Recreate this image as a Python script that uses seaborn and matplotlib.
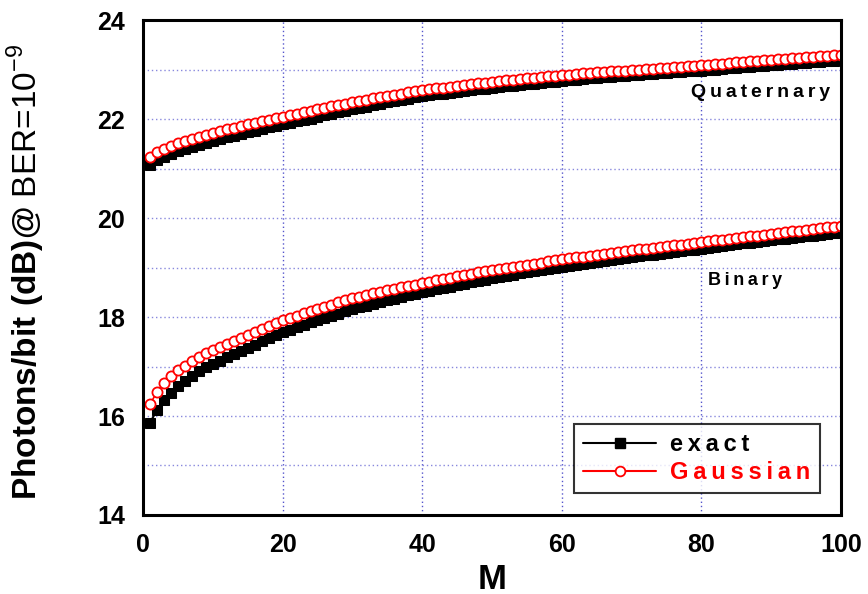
import matplotlib
matplotlib.use("Agg")
import matplotlib.pyplot as plt
import seaborn as sns
import pandas as pd
from matplotlib.ticker import MultipleLocator
from matplotlib.lines import Line2D

M = list(range(1, 101))

binary_exact = [
    15.86, 16.12, 16.32, 16.47, 16.60, 16.71, 16.81, 16.90, 16.98, 17.05,
    17.12, 17.19, 17.25, 17.32, 17.38, 17.44, 17.51, 17.57, 17.63, 17.69,
    17.74, 17.79, 17.84, 17.89, 17.94, 17.98, 18.03, 18.07, 18.12, 18.16,
    18.20, 18.23, 18.27, 18.30, 18.34, 18.37, 18.40, 18.44, 18.47, 18.50,
    18.53, 18.56, 18.58, 18.61, 18.64, 18.67, 18.70, 18.72, 18.75, 18.78,
    18.80, 18.83, 18.85, 18.88, 18.90, 18.92, 18.95, 18.97, 19.00, 19.02,
    19.04, 19.06, 19.07, 19.09, 19.11, 19.13, 19.15, 19.17, 19.19, 19.21,
    19.23, 19.25, 19.26, 19.28, 19.30, 19.32, 19.33, 19.35, 19.36, 19.38,
    19.40, 19.42, 19.43, 19.45, 19.47, 19.49, 19.50, 19.52, 19.53, 19.55,
    19.57, 19.58, 19.60, 19.61, 19.63, 19.64, 19.66, 19.67, 19.69, 19.70,
]

binary_gauss = [
    16.24, 16.48, 16.66, 16.80, 16.92, 17.02, 17.11, 17.19, 17.27, 17.34,
    17.40, 17.46, 17.52, 17.58, 17.64, 17.70, 17.76, 17.82, 17.88, 17.93,
    17.98, 18.03, 18.08, 18.13, 18.17, 18.21, 18.25, 18.30, 18.34, 18.38,
    18.41, 18.44, 18.48, 18.51, 18.54, 18.57, 18.60, 18.63, 18.65, 18.68,
    18.71, 18.74, 18.77, 18.79, 18.82, 18.85, 18.87, 18.90, 18.92, 18.95,
    18.97, 18.99, 19.02, 19.04, 19.06, 19.08, 19.10, 19.13, 19.15, 19.17,
    19.19, 19.21, 19.22, 19.24, 19.26, 19.28, 19.30, 19.31, 19.33, 19.35,
    19.37, 19.38, 19.40, 19.41, 19.43, 19.45, 19.46, 19.48, 19.49, 19.51,
    19.53, 19.55, 19.56, 19.58, 19.60, 19.61, 19.63, 19.64, 19.66, 19.68,
    19.69, 19.71, 19.73, 19.74, 19.76, 19.78, 19.79, 19.81, 19.82, 19.84,
]

quat_exact = [
    21.08, 21.17, 21.24, 21.30, 21.35, 21.40, 21.44, 21.48, 21.52, 21.56,
    21.59, 21.63, 21.66, 21.70, 21.73, 21.76, 21.79, 21.83, 21.86, 21.89,
    21.92, 21.95, 21.98, 22.01, 22.05, 22.08, 22.11, 22.14, 22.17, 22.20,
    22.23, 22.25, 22.28, 22.31, 22.34, 22.36, 22.38, 22.41, 22.44, 22.46,
    22.48, 22.50, 22.51, 22.53, 22.55, 22.57, 22.58, 22.60, 22.61, 22.63,
    22.64, 22.66, 22.67, 22.69, 22.70, 22.71, 22.72, 22.74, 22.75, 22.77,
    22.78, 22.79, 22.81, 22.82, 22.83, 22.84, 22.85, 22.86, 22.87, 22.88,
    22.89, 22.90, 22.91, 22.92, 22.93, 22.94, 22.95, 22.96, 22.97, 22.98,
    22.99, 23.00, 23.01, 23.03, 23.04, 23.05, 23.06, 23.07, 23.08, 23.09,
    23.10, 23.11, 23.12, 23.13, 23.14, 23.15, 23.16, 23.17, 23.18, 23.20,
]

quat_gauss = [
    21.24, 21.33, 21.40, 21.46, 21.51, 21.56, 21.60, 21.64, 21.68, 21.72,
    21.75, 21.79, 21.82, 21.86, 21.89, 21.92, 21.95, 21.99, 22.02, 22.05,
    22.08, 22.11, 22.14, 22.17, 22.20, 22.23, 22.26, 22.28, 22.31, 22.34,
    22.37, 22.39, 22.42, 22.44, 22.47, 22.49, 22.51, 22.54, 22.56, 22.58,
    22.60, 22.62, 22.63, 22.65, 22.67, 22.69, 22.70, 22.72, 22.73, 22.75,
    22.76, 22.78, 22.79, 22.81, 22.82, 22.83, 22.84, 22.86, 22.87, 22.88,
    22.89, 22.90, 22.92, 22.93, 22.94, 22.95, 22.96, 22.97, 22.98, 22.99,
    23.00, 23.01, 23.02, 23.03, 23.04, 23.05, 23.06, 23.07, 23.08, 23.09,
    23.10, 23.11, 23.12, 23.14, 23.15, 23.16, 23.17, 23.18, 23.19, 23.20,
    23.21, 23.22, 23.23, 23.24, 23.25, 23.26, 23.27, 23.28, 23.29, 23.30,
]

legend_labels = ["exact", "Gaussian"]
curve_labels = ["Quaternary", "Binary"]


def spaced(s):
    return "\u2009".join(s)


sns.set_style("white")
plt.rcParams["font.family"] = ["Liberation Sans", "DejaVu Sans"]
plt.rcParams["mathtext.fontset"] = "custom"
plt.rcParams["mathtext.rm"] = "Liberation Sans"
plt.rcParams["mathtext.bf"] = "Liberation Sans:bold"
plt.rcParams["text.color"] = "black"
plt.rcParams["axes.labelcolor"] = "black"
plt.rcParams["xtick.color"] = "black"
plt.rcParams["ytick.color"] = "black"

fig = plt.figure(figsize=(8.68, 5.94), dpi=100)
ax = fig.add_axes([0.1647, 0.133, 0.8043, 0.8333])


def frame(vals):
    return pd.DataFrame({"M": M, "v": vals})


exact_kw = dict(color="black", marker="s", markersize=7, markeredgecolor="black",
                markerfacecolor="black", linewidth=1.5)
gauss_kw = dict(color="red", marker="o", markersize=7.3, markeredgecolor="red",
                markerfacecolor="white", markeredgewidth=1.3, linewidth=1.2)

for vals in (binary_exact, quat_exact):
    sns.lineplot(data=frame(vals), x="M", y="v", ax=ax, **exact_kw)
for vals in (binary_gauss, quat_gauss):
    sns.lineplot(data=frame(vals), x="M", y="v", ax=ax, **gauss_kw)

ax.set_xlim(0, 100)
ax.set_ylim(14, 24)
ax.xaxis.set_major_locator(MultipleLocator(20))
ax.xaxis.set_minor_locator(MultipleLocator(10))
ax.yaxis.set_major_locator(MultipleLocator(2))
ax.yaxis.set_minor_locator(MultipleLocator(1))

ax.grid(True, which="major", axis="x", color="#5555cc", linestyle=(0, (1, 2)), linewidth=1.0)
ax.grid(True, which="both", axis="y", color="#8888dd", linestyle=(0, (1, 2)), linewidth=1.0)

for s in ax.spines.values():
    s.set_linewidth(2.2)
    s.set_color("black")

ax.tick_params(which="major", direction="out", length=8, width=2, color="black",
               labelsize=18, pad=5, labelcolor="black")
ax.tick_params(which="minor", direction="out", length=5, width=2, color="black")
for lab in ax.get_xticklabels() + ax.get_yticklabels():
    lab.set_fontweight("bold")

ax.set_xlabel("M", fontsize=25, fontweight="bold", labelpad=4)
ax.set_ylabel(r"$\mathbf{Photons/bit\ (dB)@}$ BER=10$^{-9}$", fontsize=24)
ax.yaxis.set_label_coords(-0.137, 0.49)

ax.text(88.5, 22.53, spaced("Quaternary"), fontsize=14, fontweight="bold",
        ha="center", va="center", color="black")
ax.text(86.3, 18.73, spaced("Binary"), fontsize=13, fontweight="bold",
        ha="center", va="center", color="black")

handles = [
    Line2D([], [], color="black", marker="s", markersize=7, markerfacecolor="black", linewidth=1.5),
    Line2D([], [], color="red", marker="o", markersize=7, markerfacecolor="white",
           markeredgewidth=1.3, linewidth=1.5),
]
leg = ax.legend(handles, [spaced(t) for t in legend_labels], loc="lower right",
                bbox_to_anchor=(0.97, 0.044), borderaxespad=0,
                prop={"weight": "bold", "size": 17}, frameon=True, fancybox=False,
                edgecolor="black", handlelength=3.1, handletextpad=0.6,
                borderpad=0.4, labelspacing=0.2, labelcolor=["black", "red"])
leg.get_frame().set_linewidth(1.5)

fig.savefig("out.png", dpi=100)
